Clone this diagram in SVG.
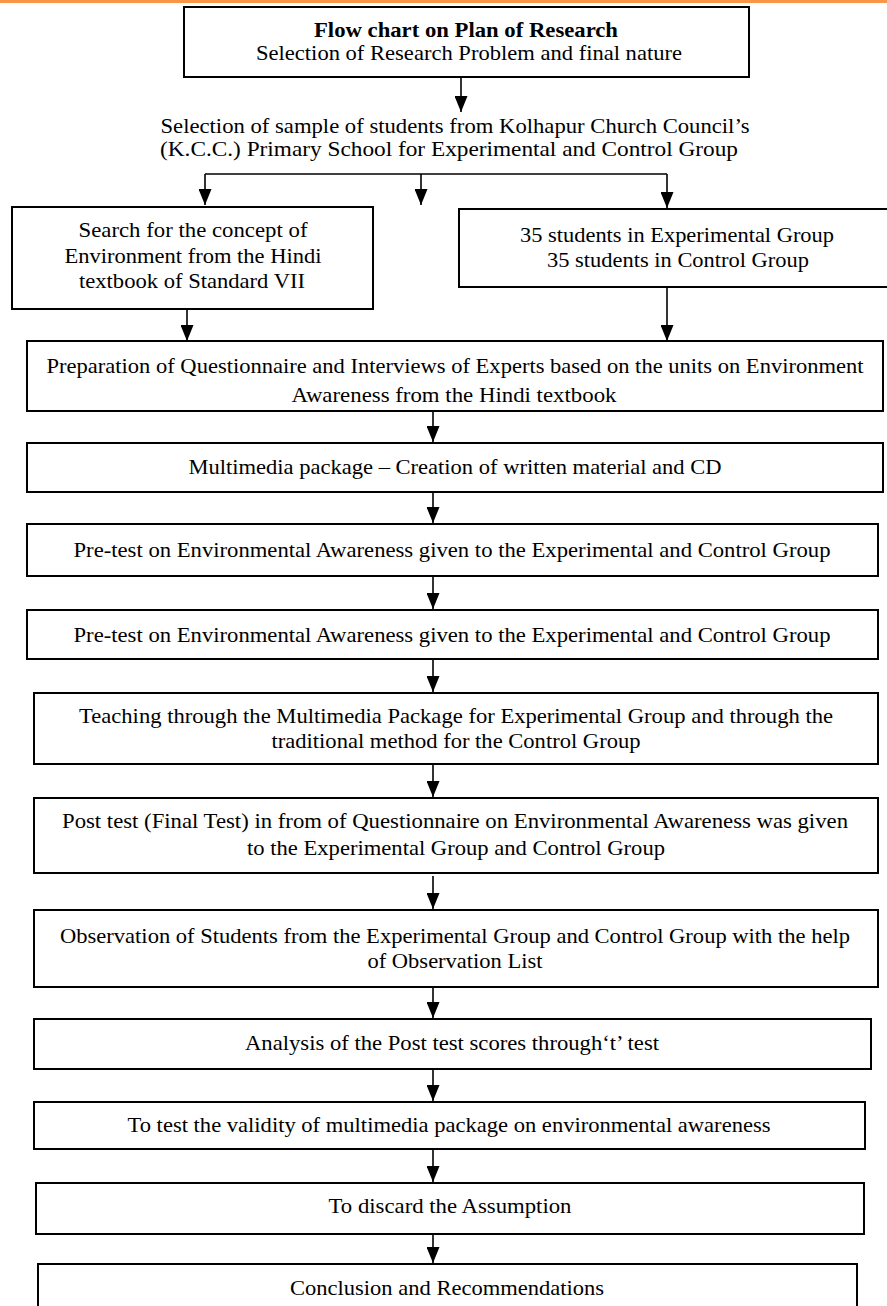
<svg xmlns="http://www.w3.org/2000/svg" width="887" height="1306" viewBox="0 0 887 1306">
<defs>
<marker id="ah" markerUnits="userSpaceOnUse" markerWidth="16" markerHeight="13" refX="16" refY="6.5" orient="auto">
<path d="M0,0 L16,6.5 L0,13 Z" fill="#000"/>
</marker>
<style>
.box{fill:#fff;stroke:#000;stroke-width:2}
.t{font-family:"Liberation Serif","Times New Roman",serif;font-size:22px;fill:#000;text-anchor:middle}
.b{font-weight:bold}
.c{fill:none;stroke:#000;stroke-width:1.6}
.a{fill:none;stroke:#000;stroke-width:1.6;marker-end:url(#ah)}
</style>
</defs>
<rect x="0" y="0" width="887" height="1306" fill="#fff"/>
<rect x="0" y="0" width="887" height="3" fill="#f79646"/>

<g id="connectors">
<line class="a" x1="461" y1="77" x2="461" y2="112"/>
<line class="c" x1="205" y1="174" x2="667" y2="174"/>
<line class="a" x1="205" y1="174" x2="205" y2="205"/>
<line class="a" x1="421" y1="174" x2="421" y2="205"/>
<line class="a" x1="667" y1="174" x2="667" y2="208"/>
<line class="a" x1="187" y1="309" x2="187" y2="341"/>
<line class="a" x1="667" y1="287" x2="667" y2="341"/>
<line class="a" x1="433" y1="411" x2="433" y2="442"/>
<line class="a" x1="433" y1="492" x2="433" y2="523"/>
<line class="a" x1="433" y1="576" x2="433" y2="609"/>
<line class="a" x1="433" y1="659" x2="433" y2="692"/>
<line class="a" x1="433" y1="762" x2="433" y2="797"/>
<line class="a" x1="433" y1="876" x2="433" y2="909"/>
<line class="a" x1="433" y1="987" x2="433" y2="1018"/>
<line class="a" x1="433" y1="1067" x2="433" y2="1101"/>
<line class="a" x1="433" y1="1149" x2="433" y2="1182"/>
<line class="a" x1="433" y1="1232" x2="433" y2="1263"/>
</g>

<g id="n-title">
<rect class="box" x="184" y="7" width="565" height="70"/>
<text class="t b" x="466" y="37" textLength="304" lengthAdjust="spacingAndGlyphs">Flow chart on Plan of Research</text>
<text class="t" x="469" y="60" textLength="426" lengthAdjust="spacingAndGlyphs">Selection of Research Problem and final nature</text>
</g>

<g id="n-sample">
<text class="t" x="455" y="133" textLength="589" lengthAdjust="spacingAndGlyphs">Selection of sample of students from Kolhapur Church Council’s</text>
<text class="t" x="449" y="156" textLength="578" lengthAdjust="spacingAndGlyphs">(K.C.C.) Primary School for Experimental and Control Group</text>
</g>

<g id="n-search">
<rect class="box" x="12" y="207" width="361" height="102"/>
<text class="t" x="193" y="237" textLength="229" lengthAdjust="spacingAndGlyphs">Search for the concept of</text>
<text class="t" x="193" y="263" textLength="257" lengthAdjust="spacingAndGlyphs">Environment from the Hindi</text>
<text class="t" x="192" y="288" textLength="226" lengthAdjust="spacingAndGlyphs">textbook of Standard VII</text>
</g>

<g id="n-students">
<rect class="box" x="459" y="209" width="440" height="78"/>
<text class="t" x="677" y="242" textLength="314" lengthAdjust="spacingAndGlyphs">35 students in Experimental Group</text>
<text class="t" x="678" y="267" textLength="262" lengthAdjust="spacingAndGlyphs">35 students in Control Group</text>
</g>

<g id="n-prep">
<rect class="box" x="27" y="341" width="856" height="70"/>
<text class="t" x="455" y="373" textLength="817" lengthAdjust="spacingAndGlyphs">Preparation of Questionnaire and Interviews of Experts based on the units on Environment</text>
<text class="t" x="454" y="402" textLength="325" lengthAdjust="spacingAndGlyphs">Awareness from the Hindi textbook</text>
</g>

<g id="n-multimedia">
<rect class="box" x="27" y="443" width="856" height="49"/>
<text class="t" x="455" y="474" textLength="533" lengthAdjust="spacingAndGlyphs">Multimedia package – Creation of written material and CD</text>
</g>

<g id="n-pretest1">
<rect class="box" x="27" y="524" width="851" height="52"/>
<text class="t" x="452" y="557" textLength="757" lengthAdjust="spacingAndGlyphs">Pre-test on Environmental Awareness given to the Experimental and Control Group</text>
</g>

<g id="n-pretest2">
<rect class="box" x="27" y="610" width="851" height="49"/>
<text class="t" x="452" y="642" textLength="757" lengthAdjust="spacingAndGlyphs">Pre-test on Environmental Awareness given to the Experimental and Control Group</text>
</g>

<g id="n-teaching">
<rect class="box" x="34" y="693" width="844" height="71"/>
<text class="t" x="456" y="723" textLength="754" lengthAdjust="spacingAndGlyphs">Teaching through the Multimedia Package for Experimental Group and through the</text>
<text class="t" x="456" y="748" textLength="369" lengthAdjust="spacingAndGlyphs">traditional method for the Control Group</text>
</g>

<g id="n-posttest">
<rect class="box" x="34" y="798" width="844" height="75"/>
<text class="t" x="455" y="828" textLength="786" lengthAdjust="spacingAndGlyphs">Post test (Final Test) in from of Questionnaire on Environmental Awareness was given</text>
<text class="t" x="456" y="855" textLength="418" lengthAdjust="spacingAndGlyphs">to the Experimental Group and Control Group</text>
</g>

<g id="n-observation">
<rect class="box" x="34" y="910" width="844" height="77"/>
<text class="t" x="455" y="943" textLength="790" lengthAdjust="spacingAndGlyphs">Observation of Students from the Experimental Group and Control Group with the help</text>
<text class="t" x="455" y="968" textLength="175" lengthAdjust="spacingAndGlyphs">of Observation List</text>
</g>

<g id="n-analysis">
<rect class="box" x="34" y="1019" width="837" height="50"/>
<text class="t" x="452" y="1050" textLength="414" lengthAdjust="spacingAndGlyphs">Analysis of the Post test scores through‘t’ test</text>
</g>

<g id="n-validity">
<rect class="box" x="34" y="1102" width="831" height="47"/>
<text class="t" x="449" y="1132" textLength="643" lengthAdjust="spacingAndGlyphs">To test the validity of multimedia package on environmental awareness</text>
</g>

<g id="n-discard">
<rect class="box" x="36" y="1183" width="828" height="51"/>
<text class="t" x="450" y="1213" textLength="243" lengthAdjust="spacingAndGlyphs">To discard the Assumption</text>
</g>

<g id="n-conclusion">
<rect class="box" x="38" y="1264" width="819" height="60"/>
<text class="t" x="447" y="1295" textLength="314" lengthAdjust="spacingAndGlyphs">Conclusion and Recommendations</text>
</g>
</svg>
